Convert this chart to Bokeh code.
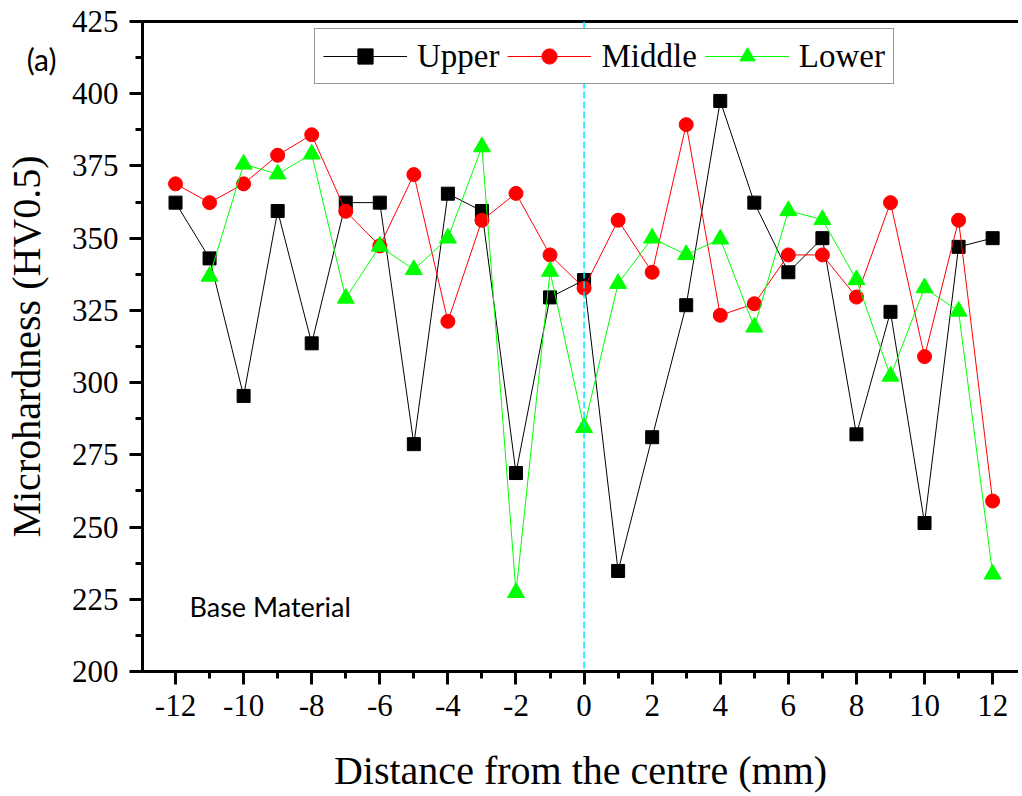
from bokeh.plotting import figure
from bokeh.models import (Range1d, SingleIntervalTicker, LinearAxis, FixedTicker,
                          Span, Label, Legend, LegendItem, PrintfTickFormatter)
from bokeh.embed import file_html
from bokeh.resources import INLINE

# ---- data ----
distance = list(range(-12, 13))
upper = [362.3, 343.0, 295.4, 359.4, 313.6, 362.3, 362.3, 278.7, 365.4, 359.4, 268.7, 329.5, 335.5,
         234.8, 281.1, 326.8, 397.5, 362.3, 338.2, 350.0, 282.1, 324.5, 251.4, 347.0, 350.0]
middle = [368.8, 362.3, 368.8, 378.7, 385.8, 359.3, 347.3, 372.0, 321.2, 356.2, 365.5, 344.2, 332.7,
          356.2, 338.2, 389.3, 323.3, 327.3, 344.2, 344.2, 329.6, 362.3, 309.0, 356.2, 259.0]
lower_distance = list(range(-11, 13))
lower = [336.8, 375.6, 372.2, 379.1, 329.2, 347.2, 339.1, 350.0, 381.6, 227.3, 338.5, 284.4,
         334.3, 350.0, 344.3, 349.7, 319.2, 359.5, 356.4, 335.6, 302.2, 332.8, 324.7, 233.7]
series_names = ["Upper", "Middle", "Lower"]
centre_line = 0
panel_tag = "(a)"
panel_tag_y = 412
note_text = "Base Material"

SERIF = "Liberation Serif"

p = figure(width=1018, height=795,
           x_range=Range1d(-12.97, 12.76), y_range=Range1d(200, 425),
           output_backend="svg", toolbar_location=None,
           min_border_left=141, min_border_right=0, min_border_top=21, min_border_bottom=123)
p.grid.visible = False
p.outline_line_color = None
p.background_fill_color = "white"
p.border_fill_color = "white"

xax = p.xaxis[0]
yax = p.yaxis[0]
xax.ticker = SingleIntervalTicker(interval=2, num_minor_ticks=2)
xax.formatter = PrintfTickFormatter(format="%d")
yax.ticker = SingleIntervalTicker(interval=25, num_minor_ticks=2)
xax.axis_label = "Distance from the centre (mm)"

for ax in (xax, yax):
    ax.axis_line_width = 3
    ax.axis_line_color = "black"
    ax.major_tick_line_width = 3
    ax.minor_tick_line_width = 3
    ax.major_tick_line_color = "black"
    ax.minor_tick_line_color = "black"
    ax.major_tick_out = 13
    ax.major_tick_in = 0
    ax.minor_tick_out = 7
    ax.minor_tick_in = 0
    ax.major_label_text_font = SERIF
    ax.major_label_text_font_size = "31px"
    ax.major_label_text_color = "black"
    ax.axis_label_text_font = SERIF
    ax.axis_label_text_font_size = "40px"
    ax.axis_label_text_font_style = "normal"
    ax.axis_label_text_color = "black"
xax.major_label_standoff = 10
xax.axis_label_standoff = 29
yax.major_label_standoff = 11

# outer left axis: carries the panel tag "(a)" and the y-axis title
aux = LinearAxis(ticker=FixedTicker(ticks=[panel_tag_y], minor_ticks=[]),
                 major_label_overrides={panel_tag_y: panel_tag},
                 axis_line_color=None, major_tick_line_color=None, minor_tick_line_color=None,
                 major_tick_out=0, major_tick_in=0, minor_tick_out=0, minor_tick_in=0,
                 major_label_standoff=12, major_label_text_font="Lato",
                 major_label_text_font_size="30px", major_label_text_color="black",
                 axis_label="Microhardness (HV0.5)", axis_label_standoff=-25,
                 axis_label_text_font=SERIF, axis_label_text_font_size="40px",
                 axis_label_text_font_style="normal", axis_label_text_color="black")
p.add_layout(aux, "left")

top = LinearAxis(ticker=FixedTicker(ticks=[], minor_ticks=[]), major_label_text_font_size="0px",
                 axis_line_width=3, axis_line_color="black",
                 major_tick_line_color=None, minor_tick_line_color=None)
p.add_layout(top, "above")

p.add_layout(Span(location=centre_line, dimension="height", line_color="#00E8FF",
                  line_dash="7 3", line_width=1.5))

l1 = p.line(distance, upper, line_color="black", line_width=1)
s1 = p.scatter(distance, upper, marker="square", size=13, fill_color="black", line_color="black")
l2 = p.line(distance, middle, line_color="#FF0000", line_width=1)
s2 = p.scatter(distance, middle, marker="circle", size=14, fill_color="#FF0000", line_color="#FF0000")
l3 = p.line(lower_distance, lower, line_color="#00FF00", line_width=1)
s3 = p.scatter(lower_distance, lower, marker="triangle", size=17, fill_color="#00FF00", line_color="#00FF00")

legend = Legend(items=[LegendItem(label=series_names[0], renderers=[l1, s1]),
                       LegendItem(label=series_names[1], renderers=[l2, s2]),
                       LegendItem(label=series_names[2], renderers=[l3, s3])],
                orientation="horizontal", location=(172, 587),
                label_text_font=SERIF, label_text_font_size="33px", label_text_color="black",
                glyph_width=84, glyph_height=38, label_standoff=10, spacing=8, padding=8,
                margin=0, border_line_color="#333333", border_line_width=1.5,
                background_fill_color="white", background_fill_alpha=1.0)
p.add_layout(legend)

p.add_layout(Label(x=47, y=65, x_units="screen", y_units="screen", text=note_text,
                   text_font="Lato", text_font_size="27px", text_baseline="middle",
                   text_align="left", text_color="black"))

open("out.html", "w").write(file_html(p, INLINE))
